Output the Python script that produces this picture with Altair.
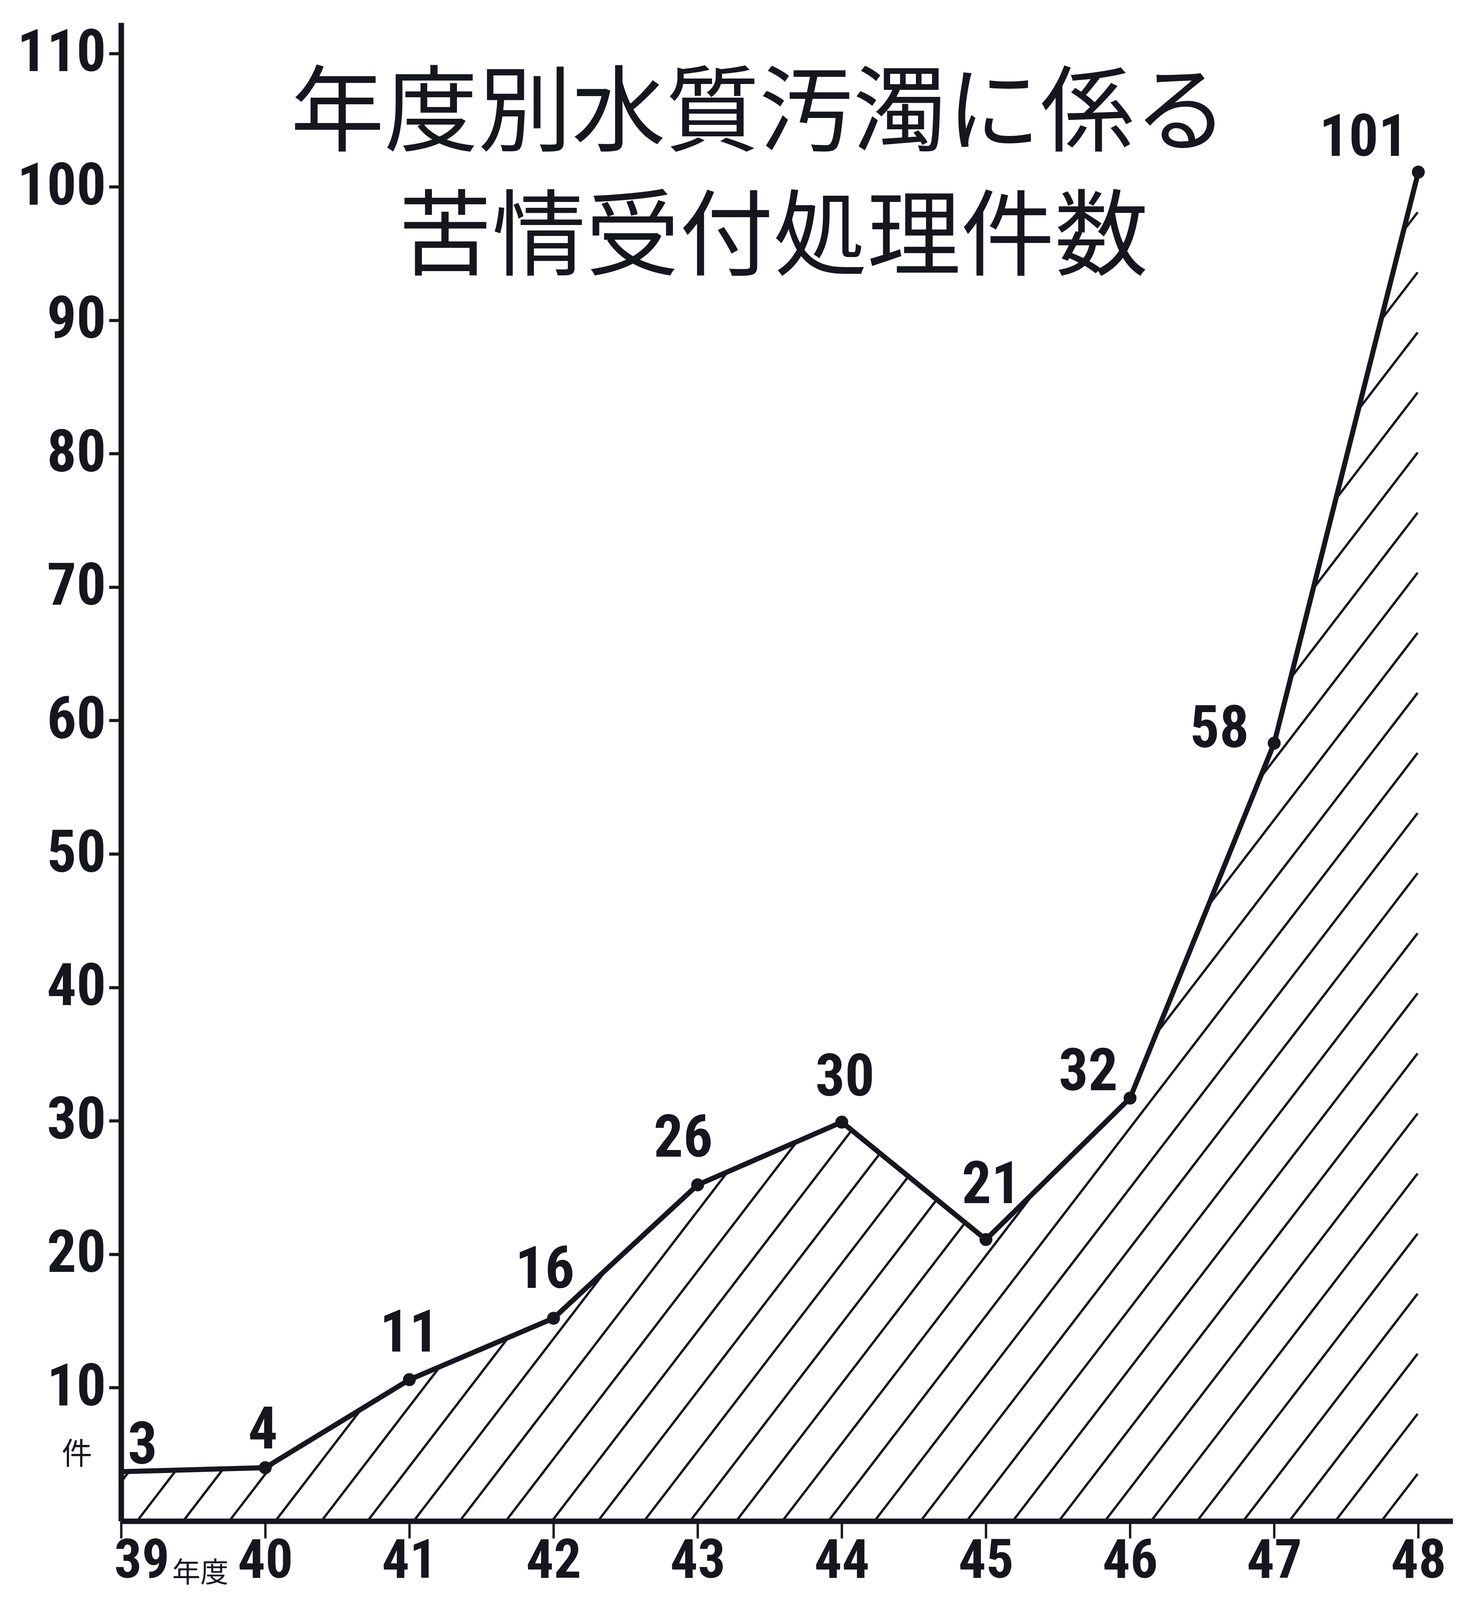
import altair as alt
import pandas as pd
import numpy as np

# ---------------- data ----------------
years = [39, 40, 41, 42, 43, 44, 45, 46, 47, 48]          # 年度 (Showa)
labels = [3, 4, 11, 16, 26, 30, 21, 32, 58, 101]          # printed values
plotted = [3.7, 4.0, 10.6, 15.2, 25.2, 29.9, 21.1, 31.7, 58.3, 101.1]  # drawn heights
y_ticks = [10, 20, 30, 40, 50, 60, 70, 80, 90, 100, 110]
x_ticks = years
title_lines = ["年度別水質汚濁に係る", "苦情受付処理件数"]
unit_y = "件"
unit_x = "年度"

# ---------------- style / layout ----------------
INK = "#16161f"
NUM_FONT = ("Noto Sans ExtraCondensed, Noto Sans Condensed, Liberation Sans Narrow, "
            "Roboto Condensed, DejaVu Sans Condensed, sans-serif")
CJK_FONT = "Noto Sans CJK JP"
F = 0.931                     # vertical layout factor (viewport height / 4404)
W, H = 3410, 3836
X0, X1 = 39, 48.24
Y0, Y1 = 0, 112.3
PX_YEAR = W / (X1 - X0)
PX_UNIT = H / (Y1 - Y0)
NUM_SIZE = 150
XLAB_SIZE = 140

# label nudges in pixels (dx, dy) relative to each point
LABEL_NUDGE = [(55, -70), (-6, -101), (0, -126), (-22, -132), (-37, -126),
               (8, -121), (14, -149), (-107, -70), (-140, -37), (-140, -93)]

df = pd.DataFrame({"year": years, "v": plotted, "label": [str(l) for l in labels]})
df["lx"] = [y + n[0] / PX_YEAR for y, n in zip(years, LABEL_NUDGE)]
df["ly"] = [v - n[1] * F / PX_UNIT for v, n in zip(plotted, LABEL_NUDGE)]

# hatch pattern (decoration): parallel diagonal strokes clipped to the year range
HATCH_SPACING_PX = 118
HATCH_SLOPE = 1.4 * F  # pixel dy/dx
HATCH_TOP = 100.0
k = PX_UNIT / (HATCH_SLOPE * PX_YEAR)  # years per count along a stroke
sp = HATCH_SPACING_PX / PX_YEAR
phase = 39.111
start = phase - np.ceil((phase - (39 - k * HATCH_TOP)) / sp) * sp
rows = []
x0 = start
while x0 <= 48:
    ylo = max(0.0, (39 - x0) / k)
    yhi = min(HATCH_TOP, (47.995 - x0) / k)
    if yhi > ylo:
        rows.append({"hx": x0 + k * ylo, "hy": ylo, "hx2": x0 + k * yhi, "hy2": yhi})
    x0 += sp
hatch = pd.DataFrame(rows)

xscale = alt.Scale(domain=[X0, X1], nice=False, zero=False)
yscale = alt.Scale(domain=[Y0, Y1], nice=False, zero=False)

xaxis = alt.Axis(values=x_ticks, title=None, grid=False, domainColor=INK, domainWidth=14,
                 tickColor=INK, tickWidth=6, tickSize=44, labelPadding=58,
                 labelFont=NUM_FONT, labelFontSize=XLAB_SIZE, labelFontWeight="bold",
                 labelColor=INK, labelAngle=0, labelLimit=0,
                 labelAlign={"condition": {"test": "datum.value == 39", "value": "left"}, "value": "center"},
                 labelOffset={"condition": {"test": "datum.value == 39", "value": -18}, "value": 0},
                 labelBaseline="middle", zindex=1)
yaxis = alt.Axis(values=y_ticks, title=None, grid=False, domainColor=INK, domainWidth=14,
                 tickColor=INK, tickWidth=8, tickSize=31, labelPadding=8, labelLimit=0,
                 labelFont=NUM_FONT, labelFontSize=NUM_SIZE, labelFontWeight="bold",
                 labelColor=INK, zindex=1)

hatch_layer = alt.Chart(hatch).mark_rule(color=INK, strokeWidth=6).encode(
    x=alt.X("hx:Q", scale=xscale, axis=xaxis),
    y=alt.Y("hy:Q", scale=yscale, axis=yaxis),
    x2="hx2:Q", y2="hy2:Q",
)

mask = alt.Chart(df).mark_area(color="white", opacity=1).encode(
    x=alt.X("year:Q", scale=xscale, axis=xaxis),
    y=alt.Y("v:Q", scale=yscale, axis=yaxis),
    y2=alt.datum(Y1),
)

line = alt.Chart(df).mark_line(color=INK, strokeWidth=13).encode(
    x=alt.X("year:Q", scale=xscale, axis=xaxis),
    y=alt.Y("v:Q", scale=yscale, axis=yaxis),
)

points = alt.Chart(df[df["year"] > 39]).mark_point(filled=True, color=INK, size=1100, opacity=1).encode(
    x=alt.X("year:Q", scale=xscale, axis=xaxis),
    y=alt.Y("v:Q", scale=yscale, axis=yaxis),
)

texts = alt.Chart(df).mark_text(font=NUM_FONT, fontSize=NUM_SIZE, fontWeight="bold",
                                color=INK, align="center", baseline="middle").encode(
    x=alt.X("lx:Q", scale=xscale, axis=xaxis),
    y=alt.Y("ly:Q", scale=yscale, axis=yaxis),
    text="label:N",
)

one = pd.DataFrame({"a": [0]})
title1 = alt.Chart(one).mark_text(font=CJK_FONT, fontSize=240, color=INK,
                                  align="center", baseline="middle", text=title_lines[0]).encode(
    x=alt.value(1634), y=alt.value(238))
title2 = alt.Chart(one).mark_text(font=CJK_FONT, fontSize=240, color=INK,
                                  align="center", baseline="middle", text=title_lines[1]).encode(
    x=alt.value(1670), y=alt.value(556))
unit_y_t = alt.Chart(one).mark_text(font=CJK_FONT, fontSize=78, color=INK,
                                    align="center", baseline="middle", text=unit_y).encode(
    x=alt.value(-113), y=alt.value(3668))
unit_x_t = alt.Chart(one).mark_text(font=CJK_FONT, fontSize=72, color=INK,
                                    align="center", baseline="middle", text=unit_x).encode(
    x=alt.value(203), y=alt.value(3970))

chart = alt.layer(hatch_layer, mask, line, points, texts, title1, title2, unit_y_t, unit_x_t).properties(
    width=W, height=H,
    padding={"left": 302, "top": 50, "right": 0, "bottom": 190},
    autosize=alt.AutoSizeParams(type="none"),
    background="white",
).configure_view(stroke=None)

chart.save("out.html", embed_options={"renderer": "svg", "actions": False})
